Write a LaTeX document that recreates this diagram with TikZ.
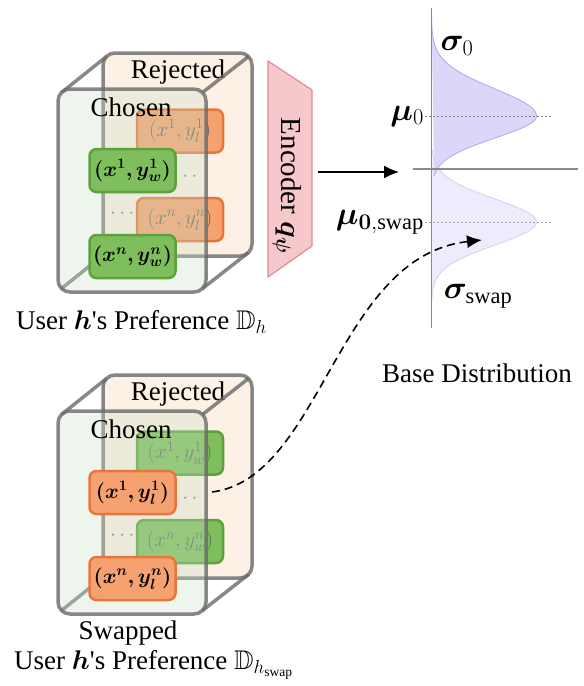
\RequirePackage{fix-cm}
\documentclass[tikz,border=0pt]{standalone}
\usepackage{amsmath,amssymb,bm}
\usepackage[no-math]{fontspec}
\setmainfont{Liberation Serif}
\usetikzlibrary{arrows.meta}

\definecolor{peach}{HTML}{FDF0E5}
\definecolor{planegreen}{HTML}{C9DFC4}
\definecolor{edgegray}{HTML}{6A6A6A}
\definecolor{boxgreen}{HTML}{7EBE5C}
\definecolor{boxgreenedge}{HTML}{5EA03E}
\definecolor{boxorange}{HTML}{F5A270}
\definecolor{boxorangeedge}{HTML}{E6763C}
\definecolor{encfill}{HTML}{F7C8CB}
\definecolor{encedge}{HTML}{D98F94}
\definecolor{gtopfill}{HTML}{D6D3F7}
\definecolor{gtopedge}{HTML}{ADA9EE}
\definecolor{gbotfill}{HTML}{EDECFC}
\definecolor{gbotedge}{HTML}{D3D1F5}
\definecolor{axisgray}{HTML}{8A8A8A}

\tikzset{
  bigtext/.style={font=\fontsize{27}{32}\selectfont},
  mathlabel/.style={font=\fontsize{32}{38}\selectfont, inner sep=1pt},
  backplane/.style={fill=peach, draw=edgegray, draw opacity=0.8, line width=3.5pt, rounded corners=12pt},
  frontplane/.style={fill=planegreen, fill opacity=0.32, draw=edgegray, draw opacity=0.8, line width=3.5pt, rounded corners=12pt},
  cubeedge/.style={draw=edgegray, draw opacity=0.8, line width=3.5pt},
  pairbox/.style={minimum width=86pt, minimum height=43pt, inner sep=0pt, rounded corners=7pt, line width=2.5pt, font=\fontsize{21}{25}\selectfont},
  greenbox/.style={pairbox, fill=boxgreen, draw=boxgreenedge},
  orangebox/.style={pairbox, fill=boxorange, draw=boxorangeedge},
  backtext/.style={text=black!60},
  dotsnode/.style={font=\fontsize{21}{25}\selectfont, text=gray, inner sep=0pt},
  axisline/.style={draw=axisgray, line width=1.5pt},
  meanline/.style={draw=gray, line width=0.7pt, dash pattern=on 2pt off 2pt},
}

% depth edges of a cube whose front face is (58,89)-(206,292) and back face
% (103,53)-(252,256); they end on the arcs of the rounded corners
\newcommand\cubeedges{%
  \draw[cubeedge] (61.5,92.5) -- (106.5,56.5);
  \draw[cubeedge] (202.5,92.5) -- (248.5,56.5);
  \draw[cubeedge] (61.5,288.5) -- (106.5,252.5);
  \draw[cubeedge] (202.5,288.5) -- (248.5,252.5);
}

\begin{document}
\begin{tikzpicture}[x=1pt, y=-1pt]
\useasboundingbox (0,0) rectangle (584,686);

% ---------- preference cube for user h ----------
\draw[backplane] (103,53) rectangle (252,256);
\node[bigtext] (t-rej) at (178,72) {Rejected};
\node[orangebox, backtext] (t-l1) at (180,131) {$(x^1, y_l^1)$};
\node[orangebox, backtext] (t-ln) at (180,219.5) {$(x^n, y_l^n)$};
\node[dotsnode] (t-d1) at (187,177) {$\cdots$};
\node[dotsnode] (t-d2) at (124,214) {$\cdots$};
\cubeedges
\draw[frontplane] (58,89) rectangle (206,292);
\node[bigtext] (t-cho) at (131,107) {Chosen};
\node[greenbox] (t-w1) at (132.5,170.5) {$\bm{(x^1, y_w^1)}$};
\node[greenbox] (t-wn) at (132.5,256.5) {$\bm{(x^n, y_w^n)}$};
\node[bigtext, anchor=west, inner sep=0pt] (t-cap) at (16,322)
  {User $\bm{h}$\textquotesingle s Preference $\mathbb{D}_h$};

% ---------- swapped preference cube ----------
\begin{scope}[shift={(0,322)}]
\draw[backplane] (103,53) rectangle (252,256);
\node[bigtext] (b-rej) at (178,72) {Rejected};
\node[greenbox, backtext] (b-w1) at (180,131) {$(x^1, y_w^1)$};
\node[greenbox, backtext] (b-wn) at (180,219.5) {$(x^n, y_w^n)$};
\node[dotsnode] (b-d1) at (187,177) {$\cdots$};
\node[dotsnode] (b-d2) at (124,214) {$\cdots$};
\cubeedges
\draw[frontplane] (58,89) rectangle (206,292);
\node[bigtext] (b-cho) at (131,107) {Chosen};
\node[orangebox] (b-l1) at (132.5,170.5) {$\bm{(x^1, y_l^1)}$};
\node[orangebox] (b-ln) at (132.5,256.5) {$\bm{(x^n, y_l^n)}$};
\end{scope}
\node[bigtext] (b-swp) at (128,633) {Swapped};
\node[bigtext, anchor=west, inner sep=0pt] (b-cap) at (14,665)
  {User $\bm{h}$\textquotesingle s Preference $\mathbb{D}_{h_{\text{swap}}}$};

% ---------- encoder ----------
\draw[fill=encfill, draw=encedge, line width=1.2pt]
  (268,61) -- (312,90) -- (312,246) -- (268,277) -- cycle;
\node[font=\fontsize{29}{34}\selectfont, rotate=-90] (enc) at (287,186) {Encoder $\bm{q_\psi}$};

% ---------- base distribution ----------
\fill[gbotfill] plot[domain=150:300, samples=100]
  ({431.5+105*exp(-0.5*((\x-222)/23)^2)}, \x) -- cycle;
\draw[gbotedge, line width=0.8pt] plot[domain=150:300, samples=100]
  ({431.5+105*exp(-0.5*((\x-222)/23)^2)}, \x);
\fill[gtopfill, fill opacity=0.9] plot[domain=18:116, samples=80]
  ({431.5+105*exp(-0.5*((\x-116)/27)^2)}, \x)
  -- plot[domain=116:176, samples=50]
  ({431.5+105*exp(-0.5*((\x-116)/22)^2)}, \x) -- cycle;
\draw[gtopedge, line width=0.8pt] plot[domain=18:116, samples=80]
  ({431.5+105*exp(-0.5*((\x-116)/27)^2)}, \x)
  -- plot[domain=116:176, samples=50]
  ({431.5+105*exp(-0.5*((\x-116)/22)^2)}, \x);

\coordinate (ax-top) at (431.5,8);
\coordinate (ax-bot) at (431.5,328);
\coordinate (ax-left) at (413,169);
\coordinate (ax-right) at (578,169);
\draw[axisline] (ax-top) -- (ax-bot);
\draw[axisline] (ax-left) -- (ax-right);

\coordinate (mu0-a) at (425,116);
\coordinate (mu0-b) at (553,116);
\coordinate (mus-a) at (425,222);
\coordinate (mus-b) at (553,222);
\draw[meanline] (mu0-a) -- (mu0-b);
\draw[meanline, draw=gray!70] (mus-a) -- (mus-b);

\node[mathlabel] (sig0) at (457,46) {$\bm{\sigma}_0$};
\node[mathlabel, anchor=east] (mu0) at (mu0-a) {$\bm{\mu}_0$};
\node[mathlabel, anchor=east] (mus) at (mus-a) {$\bm{\mu}_{\mathbf{0,}\text{swap}}$};
\node[mathlabel] (sigs) at (478,296) {$\bm{\sigma}_{\text{swap}}$};
\node[bigtext] (base) at (477,373) {Base Distribution};

% ---------- connectors ----------
\coordinate (enc-out) at (318,172);
\coordinate (dist-in) at (399,172);
\draw[line width=1.5pt, -{Latex[length=15pt, width=13pt]}] (enc-out) -- (dist-in);

\coordinate (swap-out) at (212,492);
\coordinate (swap-in) at (482,240);
\draw[line width=1.6pt, dash pattern=on 8pt off 5pt, -{Latex[length=15pt, width=13pt]}]
  (swap-out) .. controls (322,478) and (336,256) .. (swap-in);
\end{tikzpicture}
\end{document}
